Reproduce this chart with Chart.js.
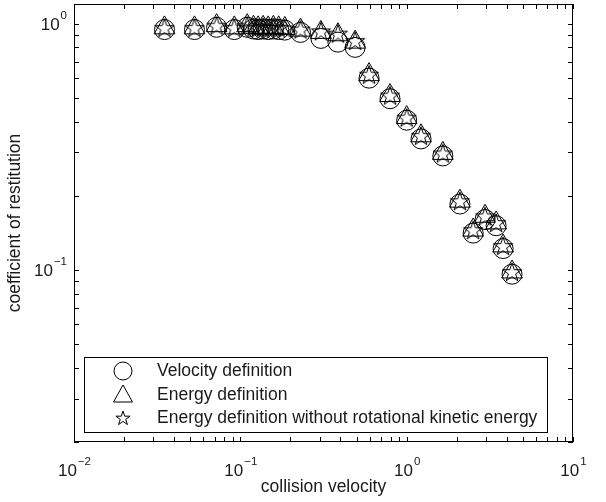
<!DOCTYPE html>
<html>
<head>
<meta charset="utf-8">
<script src="https://cdn.jsdelivr.net/npm/chart.js@4/dist/chart.umd.min.js"></script>
<style>
  html, body { margin: 0; padding: 0; background: #fff; }
  #box { width: 606px; height: 502px; }
</style>
</head>
<body>
<div id="box"><canvas id="restChart" width="606" height="502"></canvas></div>
<script>
// collision velocity (shared by all three series)
const velocities = [0.035, 0.053, 0.072, 0.092, 0.11, 0.12, 0.128, 0.137, 0.147, 0.158, 0.17, 0.185,
                    0.23, 0.305, 0.386, 0.49, 0.594, 0.794, 1.0, 1.22, 1.65, 2.09, 2.51, 2.96, 3.45, 3.8, 4.3];
// coefficient of restitution, velocity definition (circles)
const velocityDef = [0.945, 0.945, 0.965, 0.945, 0.965, 0.95, 0.945, 0.95, 0.945, 0.95, 0.945, 0.94,
                     0.92, 0.87, 0.84, 0.80, 0.60, 0.495, 0.405, 0.34, 0.29, 0.185, 0.141, 0.160, 0.151, 0.122, 0.096];
// energy definition (triangles)
const energyDef = [0.96, 0.96, 0.98, 0.96, 0.98, 0.965, 0.96, 0.965, 0.96, 0.965, 0.96, 0.955,
                   0.94, 0.92, 0.90, 0.84, 0.62, 0.51, 0.415, 0.35, 0.297, 0.19, 0.145, 0.165, 0.155, 0.125, 0.098];
// energy definition without rotational kinetic energy (stars)
const energyNoRot = [0.96, 0.96, 0.98, 0.96, 0.98, 0.965, 0.96, 0.965, 0.96, 0.965, 0.96, 0.955,
                     0.945, 0.93, 0.91, 0.85, 0.62, 0.51, 0.415, 0.35, 0.297, 0.19, 0.145, 0.165, 0.155, 0.125, 0.098];
const seriesNames = ['Velocity definition', 'Energy definition',
                     'Energy definition without rotational kinetic energy'];
const xTickExps = [-2, -1, 0, 1];
const yTickExps = [-1, 0];

const TEXT = '#1a1a1a';
const FONT = '"Liberation Sans", Arial, Helvetica, sans-serif';

function starPath(ctx, cx, cy, R) {
    const r = R * 0.382;
    ctx.beginPath();
    for (let i = 0; i < 10; i++) {
        const a = -Math.PI / 2 + i * Math.PI / 5;
        const rr = i % 2 === 0 ? R : r;
        const px = cx + Math.cos(a) * rr, py = cy + Math.sin(a) * rr;
        if (i === 0) ctx.moveTo(px, py); else ctx.lineTo(px, py);
    }
    ctx.closePath();
}

// star marker as an image for pointStyle
function makeStar(R) {
    const c = document.createElement('canvas');
    const s = Math.ceil(R * 2 + 4);
    c.width = s; c.height = s;
    const g = c.getContext('2d');
    g.strokeStyle = '#000';
    g.lineWidth = 1;
    starPath(g, s / 2, s / 2 + 0.8, R);
    g.stroke();
    return c;
}
const starImg = makeStar(10);

function toPoints(ys) {
    return velocities.map((v, i) => ({ x: v, y: ys[i] }));
}

const decorPlugin = {
    id: 'decor',
    afterDraw(chart) {
        const ctx = chart.ctx;
        const a = chart.chartArea;
        const xs = chart.scales.x, ys = chart.scales.y;
        ctx.save();
        ctx.strokeStyle = '#000';
        ctx.lineWidth = 1;

        // axes box
        ctx.strokeRect(Math.round(a.left) + 0.5, Math.round(a.top) + 0.5,
                       Math.round(a.right - a.left) - 1, Math.round(a.bottom - a.top) - 1);

        const TL = 5;
        ctx.beginPath();
        // x ticks (top and bottom, pointing in)
        for (let e = -2; e <= 1; e++) {
            for (let k = 1; k <= 9; k++) {
                const v = k * Math.pow(10, e);
                if (v < xs.min || v > xs.max) continue;
                const px = Math.round(xs.getPixelForValue(v)) + 0.5;
                ctx.moveTo(px, a.bottom); ctx.lineTo(px, a.bottom - TL);
                ctx.moveTo(px, a.top); ctx.lineTo(px, a.top + TL);
            }
        }
        // y ticks (left and right)
        for (let e = -2; e <= 0; e++) {
            for (let k = 1; k <= 9; k++) {
                const v = k * Math.pow(10, e);
                if (v < ys.min || v > ys.max) continue;
                const py = Math.round(ys.getPixelForValue(v)) + 0.5;
                ctx.moveTo(a.left, py); ctx.lineTo(a.left + TL, py);
                ctx.moveTo(a.right, py); ctx.lineTo(a.right - TL, py);
            }
        }
        ctx.stroke();

        // tick labels with superscripts
        ctx.fillStyle = TEXT;
        ctx.textBaseline = 'alphabetic';
        const baseFont = '17px ' + FONT, supFont = '11.5px ' + FONT;
        const expText = e => (e < 0 ? '\u2212' + (-e) : String(e));
        xTickExps.forEach(e => {
            const px = xs.getPixelForValue(Math.pow(10, e));
            ctx.font = baseFont; const w1 = ctx.measureText('10').width;
            ctx.font = supFont; const w2 = ctx.measureText(expText(e)).width;
            const x0 = px - (w1 + w2) / 2;
            ctx.font = baseFont; ctx.textAlign = 'left';
            ctx.fillText('10', x0, 476);
            ctx.font = supFont;
            ctx.fillText(expText(e), x0 + w1 + 1, 465);
        });
        yTickExps.forEach(e => {
            const py = ys.getPixelForValue(Math.pow(10, e));
            ctx.font = baseFont; const w1 = ctx.measureText('10').width;
            ctx.font = supFont; const w2 = ctx.measureText(expText(e)).width;
            const x0 = 67 - w1 - w2 - 1;
            ctx.font = baseFont; ctx.textAlign = 'left';
            ctx.fillText('10', x0, py + 6);
            ctx.font = supFont;
            ctx.fillText(expText(e), x0 + w1 + 1, py - 5);
        });

        // axis titles
        ctx.font = '17.5px ' + FONT;
        ctx.textAlign = 'center';
        ctx.textBaseline = 'middle';
        ctx.fillText('collision velocity', (a.left + a.right) / 2, 487);
        ctx.save();
        ctx.translate(15, (a.top + a.bottom) / 2);
        ctx.rotate(-Math.PI / 2);
        ctx.fillText('coefficient of restitution', 0, 0);
        ctx.restore();

        // legend
        const lx = 84.5, ly = 357.5, lw = 463, lh = 75;
        ctx.fillStyle = '#fff';
        ctx.fillRect(lx, ly, lw, lh);
        ctx.strokeRect(lx, ly, lw, lh);
        const rows = [371, 395, 418];
        const mx = 123;
        ctx.beginPath();
        ctx.arc(mx, rows[0], 9, 0, Math.PI * 2);
        ctx.stroke();
        ctx.beginPath();
        ctx.moveTo(mx, rows[1] - 10);
        ctx.lineTo(mx + 9.5, rows[1] + 7);
        ctx.lineTo(mx - 9.5, rows[1] + 7);
        ctx.closePath();
        ctx.stroke();
        starPath(ctx, mx, rows[2] + 0.5, 7.5);
        ctx.stroke();
        ctx.fillStyle = TEXT;
        ctx.font = '17.5px ' + FONT;
        ctx.textAlign = 'left';
        ctx.textBaseline = 'middle';
        seriesNames.forEach((n, i) => ctx.fillText(n, 157, rows[i]));
        ctx.restore();
    }
};

const ctx = document.getElementById('restChart').getContext('2d');
const restChart = new Chart(ctx, {
    type: 'scatter',
    data: {
        datasets: [
            { label: seriesNames[0], data: toPoints(velocityDef), pointStyle: 'circle',
              pointRadius: 10, borderColor: '#000', backgroundColor: 'rgba(0,0,0,0)', borderWidth: 1 },
            { label: seriesNames[1], data: toPoints(energyDef), pointStyle: 'triangle',
              pointRadius: 12, borderColor: '#000', backgroundColor: 'rgba(0,0,0,0)', borderWidth: 1 },
            { label: seriesNames[2], data: toPoints(energyNoRot), pointStyle: starImg,
              pointRadius: 10, borderColor: '#000', backgroundColor: 'rgba(0,0,0,0)', borderWidth: 1 }
        ]
    },
    options: {
        responsive: false,
        devicePixelRatio: 1,
        animation: false,
        layout: { autoPadding: false, padding: { top: 4, right: 33, left: 0, bottom: 0 } },
        plugins: { legend: { display: false }, tooltip: { enabled: false } },
        scales: {
            x: {
                type: 'logarithmic', min: 0.01, max: 10,
                grid: { display: false }, border: { display: false },
                ticks: { display: false },
                afterFit: s => { s.height = 60; }
            },
            y: {
                type: 'logarithmic', min: 0.02, max: 1.2,
                grid: { display: false }, border: { display: false },
                ticks: { display: false },
                afterFit: s => { s.width = 74; }
            }
        }
    },
    plugins: [decorPlugin]
});
</script>
</body>
</html>
